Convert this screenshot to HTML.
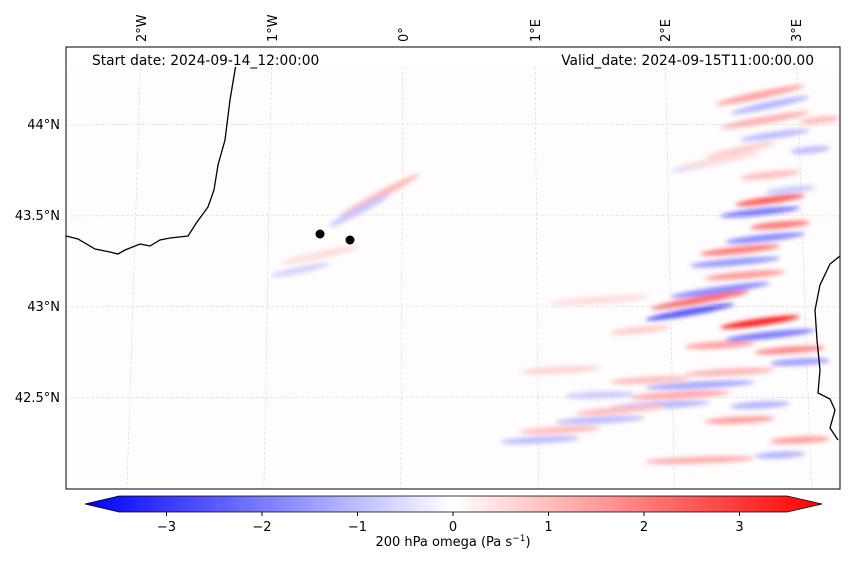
<!DOCTYPE html>
<html><head><meta charset="utf-8"><style>
body{margin:0;background:#fff;width:850px;height:562px;overflow:hidden;font-family:"Liberation Sans","DejaVu Sans",sans-serif}
svg text{font-family:"DejaVu Sans","Liberation Sans",sans-serif;font-size:13px;fill:#000}
.big{font-size:13.8px}
</style></head><body>
<svg id="chart" width="850" height="562" viewBox="0 0 850 562">
<defs>
<clipPath id="mapclip"><rect x="66" y="47" width="774" height="442"/></clipPath>
<filter id="blur" x="-50%" y="-50%" width="200%" height="200%"><feGaussianBlur stdDeviation="2.2"/></filter>
<linearGradient id="cbgrad" x1="0" x2="1" y1="0" y2="0">
<stop offset="0" stop-color="#0000ff"/><stop offset="0.5" stop-color="#ffffff"/><stop offset="1" stop-color="#ff0000"/>
</linearGradient>
</defs>
<rect x="66" y="47" width="774" height="442" fill="#fefcfc"/>
<g id="field" clip-path="url(#mapclip)" filter="url(#blur)"></g>
<g id="grid" clip-path="url(#mapclip)"></g>
<g clip-path="url(#mapclip)">
<path d="M66,236 L78,239 L95,249 L110,252 L118,254 L125,250 L140,244 L150,246 L160,240 L170,238 L188,236 L197,222 L208,207 L214,190 L218,165 L225,140 L230,100 L235,70 L239,47" fill="none" stroke="#000" stroke-width="1.3"/>
<path d="M840,256 L830,264 L820,285 L815,310 L817,340 L820,370 L818,393 L830,399 L835,410 L830,428 L838,440" fill="none" stroke="#000" stroke-width="1.3"/>
</g>
<circle cx="320" cy="234" r="4.5" fill="#000"/>
<circle cx="350" cy="240" r="4.5" fill="#000"/>
<rect x="66" y="47" width="774" height="20" fill="#fff"/>
<text class="big" x="92" y="65">Start date: 2024-09-14_12:00:00</text>
<text class="big" x="814" y="65" text-anchor="end">Valid_date: 2024-09-15T11:00:00.00</text>
<rect x="66" y="47" width="774" height="442" fill="none" stroke="#000" stroke-width="1"/>
<g id="labels"></g>
<g>
<polygon points="119,496 787,496 822,504 787,512 119,512 85,504" fill="url(#cbgrad)" stroke="#000" stroke-width="0.8"/>
<g id="cbticks"></g>
<text x="453" y="546" text-anchor="middle">200 hPa omega (Pa s<tspan dy="-5" font-size="9">−1</tspan><tspan dy="5">)</tspan></text>
</g>
</svg>
<script>
const lonLabels=["2°W","1°W","0°","1°E","2°E","3°E"];
const lonX=[141,272,403,535,665,796];
const latLabels=["44°N","43.5°N","43°N","42.5°N"];
const latY=[124,215,306,397];
const cbTicks=[-3,-2,-1,0,1,2,3];
// stripes: x, y, length, angle, omega value
const stripeX=[760,770,765,775,770,760,780,765,740,735,745,720,700,690,760,770,790,800,730,700,680,660,620,600,560,540,700,740,760,720,650,600,770,790,800,780,380,360,320,300,820,810,740,700,640,560,600,720];
const stripeY=[95,105,120,135,200,212,225,238,250,262,275,290,300,312,322,335,350,362,372,385,395,405,410,420,430,440,460,420,405,345,380,395,175,190,440,455,195,210,255,270,120,150,150,165,330,370,300,160];
const stripeL=[90,80,90,70,70,80,60,80,80,90,80,100,100,90,80,90,70,60,90,110,100,100,90,90,80,80,110,70,60,70,80,70,60,50,60,50,90,70,80,60,40,40,70,60,60,80,100,80];
const stripeA=[-12,-12,-10,-8,-8,-6,-5,-6,-6,-5,-5,-8,-10,-10,-8,-6,-4,-3,-3,-3,-3,-3,-5,-3,-3,-3,-2,-3,-3,-3,-3,-2,-6,-6,-3,-3,-28,-28,-12,-12,-6,-6,-12,-12,-6,-3,-4,-10];
const stripeV=[1.3,-1,1.1,-0.9,2.2,-1.8,1.8,-1.6,1.8,-1.4,1.4,-1.6,2,-2.3,3,-1.8,1.6,-1.3,1,-1.2,1.2,-1,0.9,-0.9,0.9,-0.9,1.1,1.3,-1,1.3,0.9,-0.7,0.9,-0.7,1.3,-1,1,-0.8,0.5,-0.6,0.9,-0.9,0.7,-0.5,0.7,0.6,0.5,0.5];
function col(v){const t=Math.min(1,Math.abs(v)/3.5);const c=Math.round(255*(1-t));return v>0?`rgb(255,${c},${c})`:`rgb(${c},${c},255)`;}
const ns="http://www.w3.org/2000/svg";
const field=document.getElementById('field');
for(let i=0;i<stripeX.length;i++){
 const e=document.createElementNS(ns,'ellipse');
 e.setAttribute('cx',stripeX[i]);e.setAttribute('cy',stripeY[i]);
 e.setAttribute('rx',stripeL[i]/2);e.setAttribute('ry',3.5);
 e.setAttribute('fill',col(stripeV[i]));
 e.setAttribute('transform',`rotate(${stripeA[i]} ${stripeX[i]} ${stripeY[i]})`);
 
 
 field.appendChild(e);
}
const grid=document.getElementById('grid'),labels=document.getElementById('labels');
lonX.forEach((x,i)=>{
 const l=document.createElementNS(ns,'line');
 const skew=(x-453)*0.045;
 l.setAttribute('x1',x);l.setAttribute('y1',47);l.setAttribute('x2',x+skew);l.setAttribute('y2',489);
 l.setAttribute('stroke','#ccc');l.setAttribute('stroke-width','0.5');l.setAttribute('stroke-dasharray','3,2');
 
 
 grid.appendChild(l);
 const t=document.createElementNS(ns,'text');
 t.setAttribute('transform',`translate(${x+5},42) rotate(-90)`);t.textContent=lonLabels[i];
 
 
 labels.appendChild(t);
});
latY.forEach((y,i)=>{
 const p=document.createElementNS(ns,'path');
 p.setAttribute('d',`M66,${y+1} Q453,${y-1} 840,${y+1}`);
 p.setAttribute('fill','none');p.setAttribute('stroke','#ccc');p.setAttribute('stroke-width','0.5');p.setAttribute('stroke-dasharray','3,2');
 
 
 grid.appendChild(p);
 const t=document.createElementNS(ns,'text');
 t.setAttribute('x',60);t.setAttribute('y',y+5);t.setAttribute('text-anchor','end');t.textContent=latLabels[i];
 
 
 labels.appendChild(t);
});
const cb=document.getElementById('cbticks');
function cbx(v){return 453+v*95.5;}
cbTicks.forEach(v=>{
 const l=document.createElementNS(ns,'line');
 l.setAttribute('x1',cbx(v));l.setAttribute('x2',cbx(v));l.setAttribute('y1',512);l.setAttribute('y2',516);l.setAttribute('stroke','#000');
 
 
 cb.appendChild(l);
 const t=document.createElementNS(ns,'text');
 t.setAttribute('x',cbx(v));t.setAttribute('y',531);t.setAttribute('text-anchor','middle');
 t.textContent=v<0?'−'+Math.abs(v):String(v);
 
 
 cb.appendChild(t);
});
</script>
</body></html>
